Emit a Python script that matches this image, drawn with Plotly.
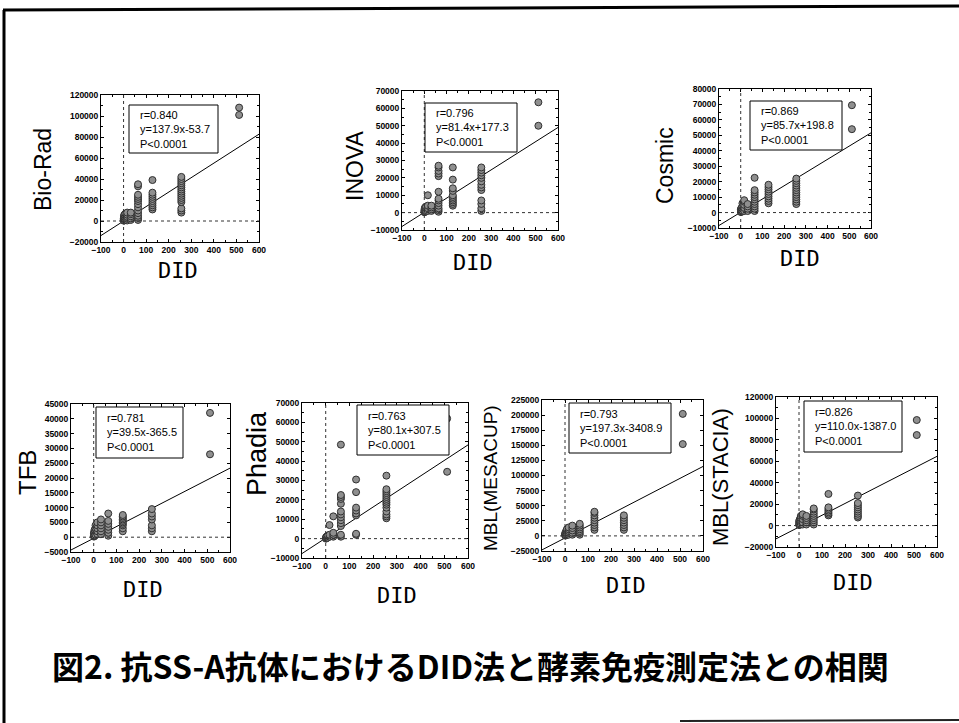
import plotly.graph_objects as go

W, H = 959, 723

did_levels = [1, 2, 4, 8, 16, 32, 64, 128, 256, 512]

methods = ["Bio-Rad", "INOVA", "Cosmic", "TFB", "Phadia", "MBL(MESACUP)", "MBL(STACIA)"]

r_values = ["0.840", "0.796", "0.869", "0.781", "0.763", "0.793", "0.826"]
slopes = [137.9, 81.4, 85.7, 39.5, 80.1, 197.3, 110.0]
intercepts = [-53.7, 177.3, 198.8, -365.5, 307.5, -3408.9, -1387.0]
p_texts = ["P<0.0001"] * 7

y_ranges = [[-20000, 120000], [-10000, 70000], [-10000, 80000], [-5000, 45000],
            [-10000, 70000], [-25000, 225000], [-20000, 120000]]
y_dticks = [20000, 10000, 10000, 5000, 10000, 25000, 20000]
x_range = [-100, 600]

biorad_y = [[300, 1200, 2500], [500, 2000, 3500, 5000], [800, 2500, 4000, 6000],
            [1000, 3000, 5000, 7000], [500, 2000, 4000, 6000, 8000], [1000, 2500, 4500, 6500, 8000],
            [1000, 3000, 5000, 7500, 10000, 13000, 16000, 19000, 21000, 23000, 25000, 33000, 35000],
            [11000, 13000, 15000, 17000, 19000, 21000, 23000, 25000, 27000, 39000],
            [8000, 10000, 12000, 18000, 20000, 22000, 24000, 26000, 28000, 30000, 32000, 34000, 36000, 38000, 40000, 42000],
            [101000, 108000]]
inova_y = [[200, 800, 1500], [500, 1500, 2500], [800, 2000, 3000], [1000, 2500, 3500],
           [1000, 2500, 4000, 10000], [1000, 2000, 3000, 4000],
           [500, 1500, 2500, 4000, 5500, 7000, 8000, 12000, 21000, 22500, 24000, 26000, 27000],
           [4000, 5000, 6000, 7000, 8000, 9000, 10000, 12500, 14000, 19000, 26000],
           [1000, 2500, 5000, 7000, 13000, 14500, 16000, 18000, 20000, 21500, 23000, 24500, 26000],
           [50000, 63500]]
cosmic_y = [[300, 1000, 2000], [500, 1500, 2500], [800, 2000, 3000], [1000, 2500, 4000, 6000],
            [1000, 3000, 5000, 7000, 8000], [1000, 2500, 4000, 5500],
            [1000, 2500, 4000, 5500, 7000, 8500, 10000, 11500, 13000, 14500, 22500],
            [6000, 7500, 9000, 10500, 12000, 13500, 15000, 16500, 18000],
            [5500, 7000, 8500, 10000, 11500, 13000, 14500, 16000, 17500, 19000, 20500, 22000],
            [54000, 69500]]
tfb_y = [[200, 600, 1200], [400, 1000, 1800], [500, 1500, 2500], [800, 2000, 3000, 4000],
         [1000, 2000, 3000, 4000, 5000], [1000, 2000, 3000, 4000, 5000, 6000],
         [500, 1500, 2500, 3500, 4500, 5500, 8000],
         [2000, 3000, 4000, 4500, 5000, 5500, 6000, 6500, 7000, 7500],
         [2000, 3000, 4000, 6000, 7000, 8000, 9500],
         [28000, 42000]]
phadia_y = [[0, 500], [200, 800], [500, 1000], [500, 1500], [1000, 2000, 7000],
            [1000, 2000, 3000, 11500],
            [1000, 2000, 6500, 8000, 9500, 11000, 12500, 14000, 18000, 20500, 21500, 22500, 48500],
            [2000, 2500, 12000, 13000, 14500, 16000, 24000, 30500],
            [10500, 11500, 12500, 14000, 16000, 17500, 18500, 19500, 20500, 21500, 22500, 23500, 24500, 25500, 32500],
            [34500, 62000]]
mesacup_y = [[500, 2000, 4000], [1000, 3000, 5000], [1000, 4000, 7000], [2000, 5000, 8000, 11000],
             [2000, 5000, 8000, 11000, 14000], [2000, 5000, 9000, 13000, 17000],
             [2000, 5000, 8000, 11000, 14000, 17000, 20000],
             [10000, 14000, 18000, 22000, 26000, 30000, 34000, 38000, 40000],
             [10000, 14000, 18000, 22000, 26000, 30000, 34000],
             [152000, 202000]]
stacia_y = [[500, 2000, 4000], [1000, 3000, 5000], [1000, 3500, 6000], [1500, 4000, 7000, 9000],
            [1000, 3000, 6000, 9000, 10500], [1000, 3000, 5000, 7000, 9000],
            [1000, 3000, 5000, 7000, 9000, 11000, 13000, 15000, 16000],
            [9500, 11000, 12500, 14000, 15500, 17000, 29500],
            [7500, 9000, 11000, 13000, 15000, 17000, 19000, 21000, 28000],
            [84500, 98500]]

all_y = [biorad_y, inova_y, cosmic_y, tfb_y, phadia_y, mesacup_y, stacia_y]

title_text = "図2. 抗SS-A抗体におけるDID法と酵素免疫測定法との相関"
x_label = "DID"

# ---- layout geometry (pixels) ----
boxes = [(101, 259, 95, 242), (402, 558, 91, 230), (719, 871, 89, 228),
         (71, 230, 404, 552), (302, 468, 403, 558), (542, 703, 400, 551), (776, 937, 397, 547)]
ytitle_pos = [(43, 170, 23), (355, 166, 23), (665, 166, 23), (27, 473, 24),
              (257, 454, 27), (490, 478, 19), (720, 477, 22)]
did_pos = [(178, 270), (473, 262), (800, 258), (143, 589), (397, 595), (626, 585), (853, 582)]
stat_boxes = [(129, 218, 105, 153), (425, 517, 103, 152), (750, 842, 101, 150),
              (96, 183, 407, 458), (357, 449, 405, 455), (569, 671, 403, 453), (804, 902, 401, 452)]

def px(x):
    return x / W

def py(y):
    return 1 - y / H

fig = go.Figure()
shapes = []
annotations = []

for i in range(7):
    n = i + 1
    xa = "x" if n == 1 else f"x{n}"
    ya = "y" if n == 1 else f"y{n}"
    xs, ys = [], []
    for lvl, vals in zip(did_levels, all_y[i]):
        for v in vals:
            xs.append(lvl)
            ys.append(v)
    # regression line
    fig.add_trace(go.Scatter(
        x=x_range, y=[slopes[i] * x_range[0] + intercepts[i], slopes[i] * x_range[1] + intercepts[i]],
        mode="lines", line=dict(color="black", width=1), xaxis=xa, yaxis=ya,
        showlegend=False, hoverinfo="skip"))
    fig.add_trace(go.Scatter(
        x=xs, y=ys, mode="markers", xaxis=xa, yaxis=ya, showlegend=False,
        marker=dict(size=7, color="#8f8f8f", line=dict(color="#303030", width=1))))

    l, r, t, b = boxes[i]
    axis_common = dict(showgrid=False, zeroline=False, showline=True, linecolor="black",
                       linewidth=1, mirror="allticks", ticks="inside", ticklen=3,
                       tickcolor="black", automargin=False, tickformat="d",
                       minor=dict(ticks="inside", ticklen=2, tickcolor="black", nticks=2),
                       tickfont=dict(family="Liberation Sans, Arial", size=8.5, color="black",
                                     weight="bold"))
    fig.update_layout(**{
        ("xaxis" if n == 1 else f"xaxis{n}"): dict(
            domain=[px(l), px(r)], range=x_range, dtick=100, tick0=-100,
            anchor=ya, fixedrange=True, **axis_common),
        ("yaxis" if n == 1 else f"yaxis{n}"): dict(
            domain=[py(b), py(t)], range=y_ranges[i], dtick=y_dticks[i],
            anchor=xa, fixedrange=True, **axis_common),
    })
    # dotted zero lines
    shapes.append(dict(type="line", xref=xa, yref=f"{ya} domain", x0=0, x1=0, y0=0, y1=1,
                       line=dict(color="#333", width=1, dash="dot")))
    shapes.append(dict(type="line", xref=f"{xa} domain", yref=ya, x0=0, x1=1, y0=0, y1=0,
                       line=dict(color="#333", width=1, dash="dot")))
    # stat box
    sl, sr, st, sb = stat_boxes[i]
    shapes.append(dict(type="rect", xref="paper", yref="paper",
                       x0=px(sl), x1=px(sr), y0=py(sb), y1=py(st),
                       line=dict(color="black", width=1), fillcolor="white", layer="above"))
    annotations.append(dict(
        xref="paper", yref="paper", x=px(sl + 9), y=py((st + sb) / 2),
        xanchor="left", yanchor="middle", align="left", showarrow=False,
        text=f"r={r_values[i]}<br>y={slopes[i]:.1f}x{'+' if intercepts[i] >= 0 else '-'}{abs(intercepts[i]):.1f}<br>{p_texts[i]}",
        font=dict(family="Liberation Sans, Arial", size=11, color="black")))
    # y title
    tx, ty, ts = ytitle_pos[i]
    annotations.append(dict(
        xref="paper", yref="paper", x=px(tx), y=py(ty), xanchor="center", yanchor="middle",
        text=methods[i], textangle=-90, showarrow=False,
        font=dict(family="Liberation Sans, Arial", size=ts, color="black")))
    # x title
    dx, dy = did_pos[i]
    annotations.append(dict(
        xref="paper", yref="paper", x=px(dx), y=py(dy), xanchor="center", yanchor="middle",
        text=x_label, showarrow=False,
        font=dict(family="DejaVu Sans Mono", size=22, color="black")))

# main title
annotations.append(dict(
    xref="paper", yref="paper", x=px(470), y=py(665), xanchor="center", yanchor="middle",
    text=title_text, showarrow=False,
    font=dict(family="Noto Sans CJK JP", size=32, color="black", weight="bold")))

# page frame
shapes.append(dict(type="line", xref="paper", yref="paper", x0=px(4), x1=px(4), y0=py(10), y1=py(723),
                   line=dict(color="black", width=3)))
shapes.append(dict(type="line", xref="paper", yref="paper", x0=px(3), x1=px(959), y0=py(10), y1=py(6),
                   line=dict(color="black", width=3)))
shapes.append(dict(type="line", xref="paper", yref="paper", x0=px(680), x1=px(959), y0=py(721), y1=py(720),
                   line=dict(color="#222", width=2)))

fig.update_layout(width=W, height=H, autosize=False,
                  margin=dict(l=0, r=0, t=0, b=0, pad=0),
                  paper_bgcolor="white", plot_bgcolor="white",
                  shapes=shapes, annotations=annotations, showlegend=False)

fig.write_html("out.html", config={"displayModeBar": False})

# remove default page margin so the figure sits at the window origin
with open("out.html", "r", encoding="utf-8") as f:
    html = f.read()
html = html.replace("<head>", "<head><style>html,body{margin:0;padding:0;overflow:hidden;}</style>", 1)
with open("out.html", "w", encoding="utf-8") as f:
    f.write(html)
